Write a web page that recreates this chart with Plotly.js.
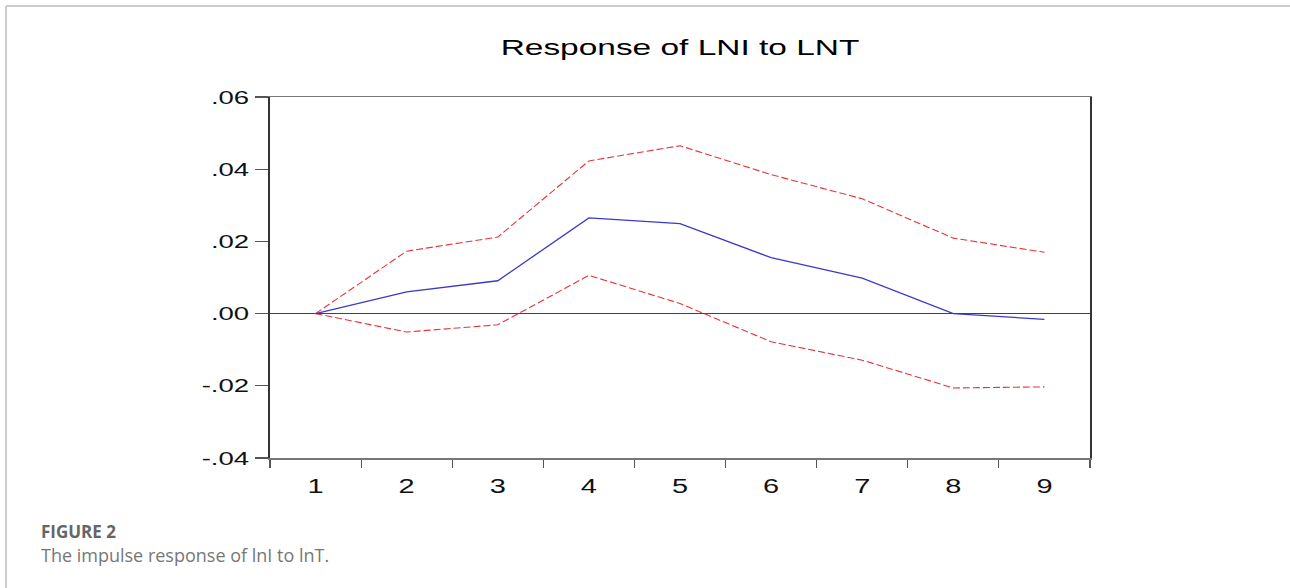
<!DOCTYPE html>
<html>
<head>
<meta charset="utf-8">
<script src="https://cdn.plot.ly/plotly-3.0.1.min.js"></script>
<style>
  html, body { margin: 0; padding: 0; background: #fff; }
  #chart { width: 1290px; height: 588px; }
</style>
</head>
<body>
<div id="chart"></div>
<script>
const periods = [1, 2, 3, 4, 5, 6, 7, 8, 9];
const response = [0.0, 0.0060, 0.0091, 0.0265, 0.0249, 0.0155, 0.0098, 0.0, -0.0016];
const upperBand = [0.0, 0.0173, 0.0212, 0.0423, 0.0465, 0.0385, 0.0318, 0.0209, 0.0170];
const lowerBand = [0.0, -0.0051, -0.0031, 0.0106, 0.0028, -0.0078, -0.0129, -0.0206, -0.0203];
const yTickVals = [-0.04, -0.02, 0.0, 0.02, 0.04, 0.06];
const yTickText = ["-.04", "-.02", ".00", ".02", ".04", ".06"];
const xTickText = ["1", "2", "3", "4", "5", "6", "7", "8", "9"];

const L = 270, R = 1090, T = 97, B = 458;
const px = v => (v - L) / (R - L);
const py = v => (B - v) / (B - T);

const traces = [
  { x: periods, y: upperBand, mode: 'lines', line: { color: '#e8333a', width: 1.1, dash: '7px,3px' }, hoverinfo: 'skip' },
  { x: periods, y: lowerBand, mode: 'lines', line: { color: '#e8333a', width: 1.1, dash: '7px,3px' }, hoverinfo: 'skip' },
  { x: periods, y: response, mode: 'lines', line: { color: '#3a3ac8', width: 1.3 }, hoverinfo: 'skip' }
];

const layout = {
  width: 1290, height: 588,
  margin: { l: L, r: 1290 - R, t: T, b: 588 - B, pad: 0 },
  paper_bgcolor: '#ffffff', plot_bgcolor: '#ffffff',
  showlegend: false,
  font: { family: 'Liberation Sans, Arial, sans-serif', color: '#1a1a1a' },
  title: {
    text: 'Response of LNI to LNT',
    font: { size: 22, family: 'Liberation Sans, Arial, sans-serif', color: '#000' },
    x: 0.5, xref: 'paper', xanchor: 'center',
    y: 1 - 47 / 588, yref: 'container', yanchor: 'middle'
  },
  xaxis: {
    range: [0.5, 9.5],
    tickmode: 'array', tickvals: periods, ticktext: xTickText,
    ticks: '', showgrid: false, zeroline: false,
    tickfont: { size: 20, color: '#111' },
    ticklabelstandoff: 9,
    showline: true, mirror: true, linecolor: '#777', linewidth: 1.5,
    minor: { ticks: 'outside', tick0: 0.5, dtick: 1, ticklen: 8, tickwidth: 1.2, tickcolor: '#555', showgrid: false },
    fixedrange: true
  },
  yaxis: {
    range: [-0.04, 0.06],
    tickmode: 'array', tickvals: yTickVals, ticktext: yTickText,
    ticks: 'outside', ticklen: 13, tickwidth: 1.2, tickcolor: '#555',
    showgrid: false,
    zeroline: true, zerolinecolor: '#444', zerolinewidth: 1,
    tickfont: { size: 19, color: '#111' },
    showline: true, mirror: true, linecolor: '#333', linewidth: 2,
    ticklabelstandoff: 2,
    fixedrange: true
  },
  shapes: [
    { type: 'line', xref: 'paper', yref: 'paper', x0: px(6), x1: px(1290), y0: py(6), y1: py(6), line: { color: '#cccccc', width: 2 } },
    { type: 'line', xref: 'paper', yref: 'paper', x0: px(6), x1: px(6), y0: py(6), y1: py(588), line: { color: '#cccccc', width: 2 } }
  ],
  annotations: [
    { text: '<b>FIGURE 2</b>', xref: 'paper', yref: 'paper', x: px(39), y: py(531), xanchor: 'left', yanchor: 'middle', showarrow: false,
      font: { family: 'Open Sans, sans-serif', size: 17, color: '#666' } },
    { text: 'The impulse response of lnI to lnT.', xref: 'paper', yref: 'paper', x: px(39), y: py(555), xanchor: 'left', yanchor: 'middle', showarrow: false,
      font: { family: 'Open Sans, sans-serif', size: 18, color: '#777' } }
  ]
};

const gd = document.getElementById('chart');
Plotly.newPlot(gd, traces, layout, { displayModeBar: false, staticPlot: true }).then(() => {
  // The reference chart image is horizontally stretched; widen its text glyphs to match.
  const stretch = (sel, factor) => {
    gd.querySelectorAll(sel).forEach(t => {
      const w = t.getComputedTextLength();
      if (w > 0) {
        t.setAttribute('textLength', (w * factor).toFixed(1));
        t.setAttribute('lengthAdjust', 'spacingAndGlyphs');
      }
    });
  };
  stretch('g.xtick > text', 1.45);
  stretch('g.ytick > text', 1.45);
  stretch('text.gtitle', 1.52);
});
</script>
</body>
</html>
